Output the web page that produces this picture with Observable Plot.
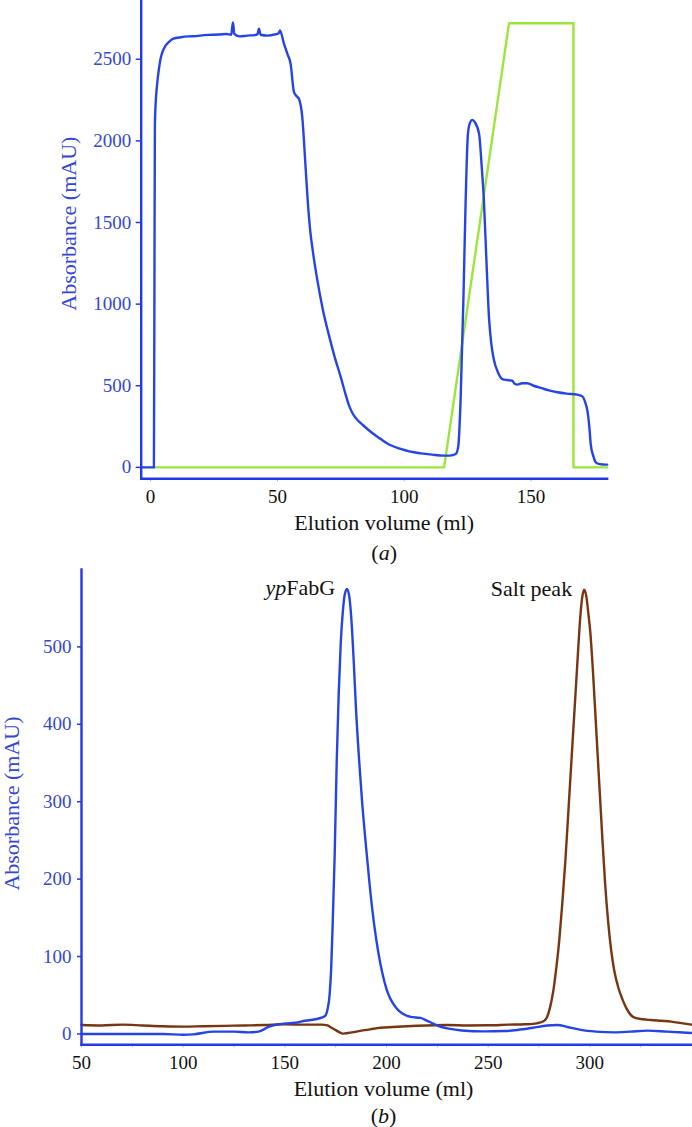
<!DOCTYPE html>
<html><head><meta charset="utf-8">
<script src="https://cdn.jsdelivr.net/npm/d3@7"></script>
<script src="https://cdn.jsdelivr.net/npm/@observablehq/plot@0.6"></script>
<style>
body{margin:0;background:#fff;}
#chart svg{display:block;}
</style>
</head><body><div id="chart"></div>
<script>
// ---- Panel (a): affinity run ----
const aVol = [-3.7, 0, 1.3, 1.5, 1.7, 2.2, 2.6, 3.2, 3.9, 4.8, 5.9, 7.5, 9, 12, 15, 18, 21, 24, 27, 30, 31.8, 32.2, 32.5, 33.0, 35, 38, 41, 42.2, 42.7, 43.4, 46, 49, 50.5, 51.0, 52.6, 54, 55.2, 56.5, 57.5, 58.5, 59.8, 61.1, 62, 63, 64, 65.7, 68, 70.3, 72.5, 75, 77, 78.2, 79.5, 81, 84, 87, 90.7, 94, 98.6, 102, 106.5, 111, 115.7, 118, 120.3, 121.3, 122.2, 123.3, 124.2, 125.1, 126, 126.8, 127.8, 129.5, 130.5, 131.4, 132.5, 133.4, 134.3, 135.4, 137, 138.7, 140.5, 141.5, 142.6, 143.5, 144.6, 146.5, 148.5, 151, 153.8, 157, 160.4, 164, 168.2, 170.2, 171.3, 172.2, 173, 173.5, 174.5, 175.5, 177, 179.4, 180];
const aUV = [0, 0, 0, 1000, 2100, 2280, 2350, 2430, 2500, 2550, 2583, 2610, 2626, 2635, 2640, 2642, 2648, 2650, 2652, 2655, 2650, 2700, 2725, 2655, 2640, 2645, 2648, 2655, 2688, 2650, 2645, 2652, 2660, 2676, 2594, 2530, 2472, 2300, 2275, 2257, 2145, 1838, 1620, 1440, 1320, 1150, 960, 810, 680, 551, 440, 380, 335, 300, 255, 215, 174, 140, 113, 98, 86, 78, 72, 72, 82, 130, 409, 1021, 1634, 2043, 2115, 2129, 2115, 2043, 1850, 1634, 1225, 919, 760, 654, 580, 541, 535, 533, 531, 512, 507, 515, 515, 500, 487, 472, 460, 452, 446, 435, 400, 347, 240, 143, 70, 31, 20, 17, 17];
const aGradVol = [1, 115.7, 141.3, 166.7, 166.7, 180];
const aGrad = [0, 0, 2721, 2721, 0, 0];
const aYTicks = [0, 500, 1000, 1500, 2000, 2500];
const aXTicks = [0, 50, 100, 150];

// ---- Panel (b): second column ----
const bVol = [50, 70, 90, 100, 105, 115, 125, 132, 137, 142, 146, 150, 155, 160, 165, 168, 170, 171, 172, 172.8, 173.5, 174.5, 175.5, 176.5, 177.5, 178.5, 179.5, 180.6, 181.8, 183, 184, 185, 186.5, 188, 190, 192, 194, 196, 198, 200, 202, 205, 208, 212, 216.7, 220, 223.3, 227, 231.5, 237, 248, 258, 264.4, 272, 279, 284.1, 289, 295.6, 303, 312, 320, 328.4, 338, 350];
const bUV = [0, 0, 0, -1, -0.5, 3, 3, 2, 3, 9, 12, 13.5, 14.5, 17, 19, 21, 24, 32, 50, 85, 140, 230, 350, 440, 505, 545, 568, 575, 563, 525, 475, 420, 355, 300, 240, 185, 140, 105, 78, 58, 45, 33, 26, 22, 20.7, 17, 13, 9, 6.5, 4.5, 3.4, 3.8, 5.2, 8, 11, 11.6, 9, 5.2, 3, 2, 3, 4.3, 3, 1.3];
const bSaltVol = [50, 60, 70, 80, 90, 100, 110, 120, 130, 140, 150, 160, 168, 171, 173, 175, 177, 178.5, 180, 183, 187, 192, 197, 203, 210, 220, 230, 240, 250, 260, 268, 272, 275.7, 277.5, 279, 280.5, 282, 283.5, 285, 286.5, 288, 289.5, 291, 292.5, 294, 295.2, 296.2, 297.2, 298.3, 299.2, 300.2, 301.5, 303, 304.5, 306, 307.5, 309, 310.5, 312, 314, 316, 318, 320, 322, 326, 330, 335, 340, 345, 350];
const bSalt = [11.6, 11, 12, 11, 10, 9.5, 10, 10.5, 11, 11.5, 12.5, 12, 12, 11, 8, 5, 2, 0.5, 1, 2, 4, 6, 8, 9, 10, 11, 11.5, 11, 11.2, 12, 12.5, 13, 15, 17, 22, 35, 55, 85, 122, 170, 225, 290, 355, 420, 485, 535, 563, 574, 565, 545, 520, 470, 400, 330, 260, 195, 145, 108, 82, 60, 45, 33, 25, 21, 19, 18, 17, 16, 14, 12];
const bYTicks = [0, 100, 200, 300, 400, 500];
const bXTicks = [50, 100, 150, 200, 250, 300];
const bXMinor = [50, 75, 100, 125, 150, 175, 200, 225, 250, 275, 300, 325];
const peakNames = ["ypFabG", "Salt peak"];
const peakVol = [180.6, 297.2];
const peakAbs = [575, 574];

const font = "Liberation Serif, Times New Roman, DejaVu Serif, serif";
const axisBlue = "#2338e6";
const textBlue = "#3447d2";
const lineBlue = "#2644e4";
const green = "#9ae63c";
const brown = "#773512";
const tickGray = "#aab0c8";

const aData = aVol.map((v, i) => ({v, a: aUV[i]}));
const aGData = aGradVol.map((v, i) => ({v, a: aGrad[i]}));
const bData = bVol.map((v, i) => ({v, a: bUV[i]}));
const bSData = bSaltVol.map((v, i) => ({v, a: bSalt[i]}));
const peaks = peakNames.map((n, i) => ({n, v: peakVol[i], a: peakAbs[i]}));

const fmt = d => String(d);
const tf = {fontFamily: font};
const mid = {textAnchor: "middle", lineAnchor: "middle"};

const plotA = Plot.plot({
  width: 692, height: 560,
  marginLeft: 140.7, marginRight: 85.3, marginTop: 0, marginBottom: 81.7,
  style: {fontFamily: font, background: "#fff", overflow: "visible"},
  x: {domain: [-3.7, 180], label: null},
  y: {domain: [-70, 2860], label: null},
  marks: [
    Plot.axisY({...tf, ticks: aYTicks, tickFormat: fmt, tickSize: 5, tickPadding: 5, stroke: axisBlue, fill: textBlue, fontSize: 19, strokeWidth: 1.5, label: null}),
    Plot.axisX({...tf, ticks: aXTicks, tickFormat: fmt, tickSize: 3, tickPadding: 8, stroke: tickGray, fill: "#111", fontSize: 19, label: null}),
    Plot.line(aGData, {x: "v", y: "a", stroke: green, strokeWidth: 2.4}),
    Plot.line(aData, {x: "v", y: "a", stroke: lineBlue, strokeWidth: 2.4, curve: "monotone-x"}),
    Plot.frame({anchor: "left", stroke: axisBlue, strokeWidth: 2.4}),
    Plot.frame({anchor: "bottom", stroke: axisBlue, strokeWidth: 2.4}),
    Plot.text(["Absorbance (mAU)"], {...tf, ...mid, frameAnchor: "left", rotate: -90, dx: -72.7, dy: -16, fill: textBlue, fontSize: 22}),
    Plot.text(["Elution volume (ml)"], {...tf, ...mid, frameAnchor: "bottom", dx: 10, dy: 43.7, fill: "#111", fontSize: 22}),
    Plot.text(["(a)"], {...tf, ...mid, frameAnchor: "bottom", dx: 10, dy: 73.7, fill: "#111", fontSize: 22})
  ]
});

const plotB = Plot.plot({
  width: 692, height: 567,
  marginLeft: 81, marginRight: 1, marginTop: 9, marginBottom: 82.7,
  style: {fontFamily: font, background: "#fff", overflow: "visible"},
  x: {domain: [50, 350], label: null},
  y: {domain: [-14, 600], label: null},
  marks: [
    Plot.axisY({...tf, ticks: bYTicks, tickFormat: fmt, tickSize: 4, tickPadding: 6, stroke: axisBlue, fill: textBlue, fontSize: 19, strokeWidth: 1.5, label: null}),
    Plot.axisX({ticks: bXMinor, tickFormat: () => "", tickSize: 3, stroke: tickGray, label: null}),
    Plot.axisX({...tf, ticks: bXTicks, tickFormat: fmt, tickSize: 0, tickPadding: 10.5, fill: "#111", fontSize: 19, label: null}),
    Plot.line(bSData, {x: "v", y: "a", stroke: brown, strokeWidth: 2.4, curve: "monotone-x"}),
    Plot.line(bData, {x: "v", y: "a", stroke: lineBlue, strokeWidth: 2.4, curve: "monotone-x"}),
    Plot.frame({anchor: "left", stroke: axisBlue, strokeWidth: 2.4}),
    Plot.frame({anchor: "bottom", stroke: axisBlue, strokeWidth: 2.4}),
    Plot.text(peaks, {...tf, x: "v", y: "a", text: "n", textAnchor: "end", lineAnchor: "middle", dx: -12, dy: -1, fill: "#111", fontSize: 22}),
    Plot.text(["Absorbance (mAU)"], {...tf, ...mid, frameAnchor: "left", rotate: -90, dx: -70, dy: -3.6, fill: textBlue, fontSize: 22}),
    Plot.text(["Elution volume (ml)"], {...tf, ...mid, frameAnchor: "bottom", dx: -3, dy: 43.7, fill: "#111", fontSize: 22}),
    Plot.text(["(b)"], {...tf, ...mid, frameAnchor: "bottom", dx: -3, dy: 70.7, fill: "#111", fontSize: 22})
  ]
});

function finish(svg) {
  const s = d3.select(svg);
  s.attr("font-family", font);
  s.selectAll("text").each(function() {
    const t = this.textContent;
    const sel = d3.select(this);
    let parts = null;
    if (t === "(a)") parts = [["(", false], ["a", true], [")", false]];
    else if (t === "(b)") parts = [["(", false], ["b", true], [")", false]];
    else if (t === "ypFabG") parts = [["yp", true], ["FabG", false]];
    if (parts) {
      sel.text(null);
      parts.forEach(([str, it]) => sel.append("tspan").attr("font-style", it ? "italic" : "normal").text(str));
    }
  });
}
finish(plotA);
finish(plotB);
document.getElementById("chart").append(plotA, plotB);
</script>
</body></html>
